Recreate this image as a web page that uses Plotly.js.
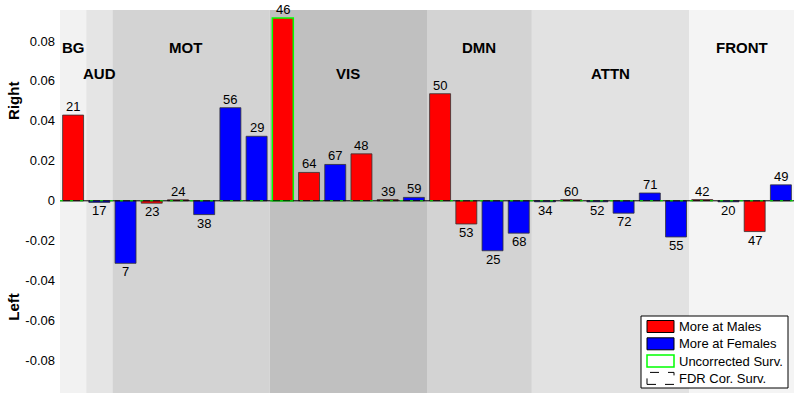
<!DOCTYPE html>
<html>
<head>
<meta charset="utf-8">
<script src="https://cdn.plot.ly/plotly-3.0.1.min.js"></script>
<style>html,body{margin:0;padding:0;background:#fff;}#chart{width:800px;height:400px;}</style>
</head>
<body>
<div id="chart"></div>
<script>
// ---- data ----
const regionNames = ['BG', 'AUD', 'MOT', 'VIS', 'DMN', 'ATTN', 'FRONT'];
const regionSizes = [1, 1, 6, 6, 4, 6, 4];
const roiLabels = ['21','17','7','23','24','38','56','29','46','64','67','48','39','59','50','53','25','68','34','60','52','72','71','55','42','20','47','49'];
const values = [0.0429, -0.0008, -0.0313, -0.0012, 0.0005, -0.0069, 0.0466, 0.0323, 0.0915, 0.0142, 0.0182, 0.0235, 0.0006, 0.0017, 0.0536, -0.0116, -0.0250, -0.0162, -0.0005, 0.0006, -0.0005, -0.0062, 0.0039, -0.0181, 0.0006, -0.0005, -0.0154, 0.0080];
const moreAt = ['M','F','F','M','M','F','F','F','M','M','F','M','M','F','M','M','F','F','F','M','F','F','F','F','M','F','M','F'];
const uncorrectedSurv = [0,0,0,0,0,0,0,0,1,0,0,0,0,0,0,0,0,0,0,0,0,0,0,0,0,0,0,0];
const legendLabels = ['More at Males', 'More at Females', 'Uncorrected Surv.', 'FDR Cor. Surv.'];
const yTicks = [-0.08, -0.06, -0.04, -0.02, 0, 0.02, 0.04, 0.06, 0.08];

// ---- styles ----
const shades = ['#f2f2f2', '#e5e5e5', '#d3d3d3', '#c0c0c0', '#d3d3d3', '#e2e2e2', '#f4f4f4'];
const FONT = 'Liberation Sans, Arial, sans-serif';
const RED = '#ff0000', BLUE = '#0000ff', GREEN = '#00ff00';

const x = values.map((v, i) => i + 1);
const colors = moreAt.map(s => s === 'M' ? RED : BLUE);
const lineColors = uncorrectedSurv.map(u => u ? GREEN : '#333333');
const lineWidths = uncorrectedSurv.map(u => u ? 1.5 : 0.8);

const L = 60, R = 794, T = 10, B = 393;
const px = p => (p - L) / (R - L);
const py = p => (B - p) / (B - T);

const shapes = [];
const annotations = [];
let start = 0.5;
regionSizes.forEach((n, i) => {
  const end = start + n;
  shapes.push({type: 'rect', xref: 'x', yref: 'paper', x0: start, x1: end, y0: 0, y1: 1,
    fillcolor: shades[i], line: {width: 0}, layer: 'below'});
  const cx = (start + end) / 2 - (n === 6 && i === 2 ? 0.2 : 0);
  annotations.push({x: cx, y: i % 2 === 0 ? 0.0765 : 0.0635, xref: 'x', yref: 'y',
    text: '<b>' + regionNames[i] + '</b>', showarrow: false, font: {family: FONT, size: 15, color: '#000'}});
  start = end;
});

// zero line (black with green dashes)
shapes.push({type: 'line', xref: 'paper', yref: 'y', x0: 0, x1: 1, y0: 0, y1: 0, line: {color: '#000', width: 1}});
shapes.push({type: 'line', xref: 'paper', yref: 'y', x0: 0, x1: 1, y0: 0, y1: 0, line: {color: GREEN, width: 1, dash: '3px,7px'}});

// value labels
values.forEach((v, i) => {
  annotations.push({x: i + 1, y: v, xref: 'x', yref: 'y', text: roiLabels[i], showarrow: false,
    yanchor: v >= 0 ? 'bottom' : 'top', font: {family: FONT, size: 13, color: '#000'}, borderpad: 0});
});

// axis side labels
annotations.push({xref: 'paper', yref: 'y', x: px(14), xanchor: 'center', y: 0.05, text: '<b>Right</b>', textangle: -90,
  showarrow: false, font: {family: FONT, size: 15, color: '#000'}});
annotations.push({xref: 'paper', yref: 'y', x: px(14), xanchor: 'center', y: -0.053, text: '<b>Left</b>', textangle: -90,
  showarrow: false, font: {family: FONT, size: 15, color: '#000'}});

// manual legend
shapes.push({type: 'rect', xref: 'paper', yref: 'paper', x0: px(641), x1: px(788), y0: py(388), y1: py(316),
  fillcolor: '#fff', line: {color: '#000', width: 1}});
const swatchFill = [RED, BLUE, '#fff', '#fff'];
const swatchLine = ['#000', '#000', GREEN, '#000'];
const swatchDash = ['solid', 'solid', 'solid', 'dash'];
legendLabels.forEach((lab, i) => {
  const yc = 326.5 + i * 17.3;
  shapes.push({type: 'rect', xref: 'paper', yref: 'paper', x0: px(647), x1: px(674), y0: py(yc + 6), y1: py(yc - 6),
    fillcolor: swatchFill[i], line: {color: swatchLine[i], width: i === 2 ? 1.5 : 1, dash: swatchDash[i]}});
  annotations.push({xref: 'paper', yref: 'paper', x: px(677), y: py(yc), xanchor: 'left', yanchor: 'middle',
    text: lab, showarrow: false, font: {family: FONT, size: 13, color: '#000'}});
});

const trace = {
  type: 'bar', x: x, y: values, width: 0.8,
  marker: {color: colors, line: {color: lineColors, width: lineWidths}},
  hoverinfo: 'skip', showlegend: false
};

const layout = {
  width: 800, height: 400,
  margin: {l: 60, r: 6, t: 10, b: 7},
  paper_bgcolor: '#fff', plot_bgcolor: '#fff',
  showlegend: false,
  xaxis: {range: [0.5, 28.5], showticklabels: false, showgrid: false, zeroline: false, ticks: '', showline: false},
  yaxis: {range: [-0.0962, 0.0955], tickvals: yTicks, ticktext: yTicks.map(t => t === 0 ? '0' : String(t)),
    showgrid: false, zeroline: false, ticks: '', showline: false, ticklabelstandoff: 4,
    tickfont: {family: FONT, size: 13, color: '#000'}},
  shapes: shapes,
  annotations: annotations,
  font: {family: FONT}
};

Plotly.newPlot('chart', [trace], layout, {staticPlot: true, displayModeBar: false});
</script>
</body>
</html>
